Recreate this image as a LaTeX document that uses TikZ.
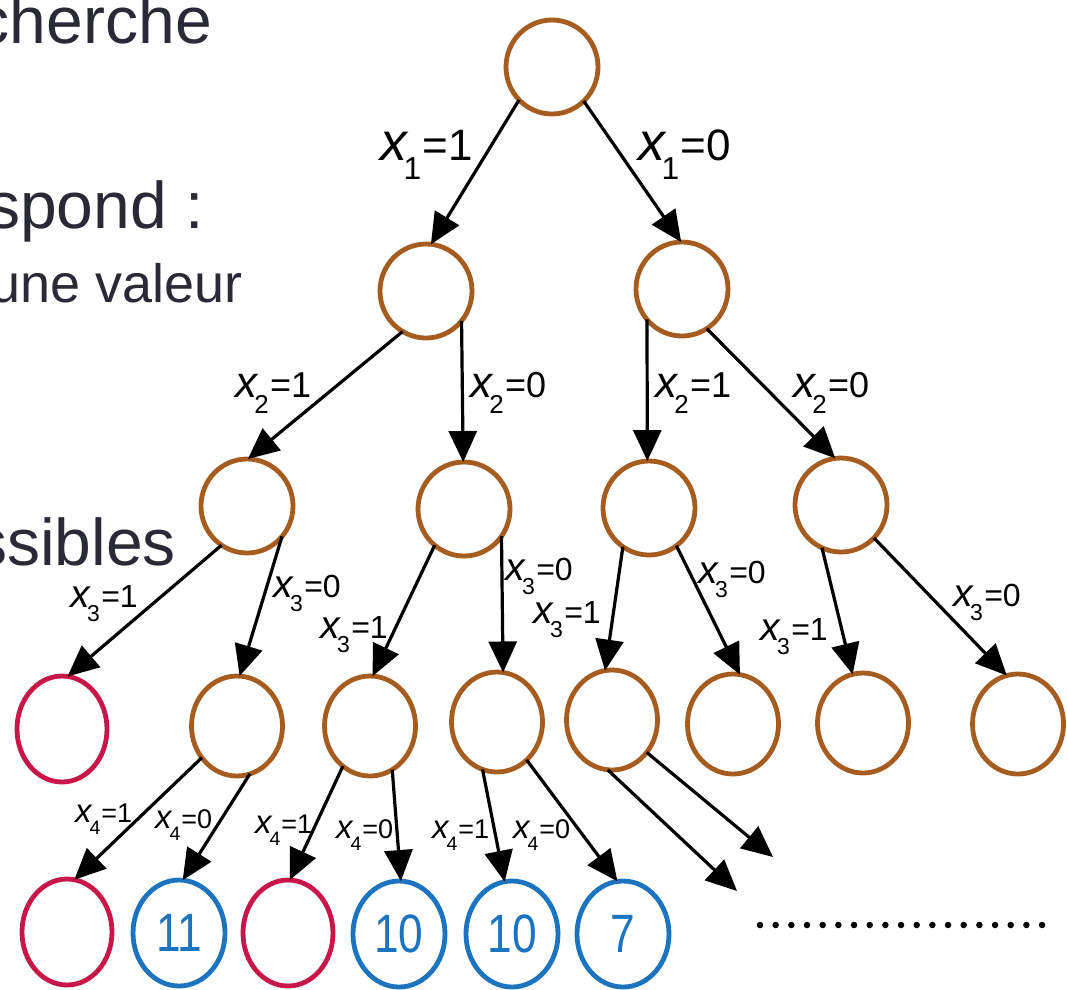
\documentclass[tikz,border=0pt]{standalone}
\usepackage{fontspec}
\setmainfont{Liberation Sans}
\usetikzlibrary{shapes.geometric,arrows.meta}
\definecolor{nodebrown}{RGB}{166,92,30}
\definecolor{nodered}{RGB}{200,22,72}
\definecolor{nodeblue}{RGB}{28,116,192}
\definecolor{inkdark}{RGB}{42,42,54}
% branch label: italic x, subscript index, value
\newcommand{\xlab}[2]{\scalebox{1.22}{\itshape x}\kern-0.08em\raisebox{-0.45em}{\scalebox{0.72}{#1}}\kern0.04em=#2}
\newcommand{\narrow}[1]{\scalebox{0.82}[1]{#1}}
\begin{document}
\begin{tikzpicture}[x=1pt,y=-1pt,
  tnode/.style={ellipse, line width=4.8pt, inner sep=0pt, outer sep=0pt, fill=white},
  inner/.style={tnode, draw=nodebrown, minimum width=92pt, minimum height=94pt},
  lowin/.style={tnode, draw=nodebrown, minimum width=91pt, minimum height=100pt},
  leafred/.style={tnode, draw=nodered, minimum width=90pt, minimum height=106pt},
  leafblue/.style={tnode, draw=nodeblue, minimum width=92pt, minimum height=106pt,
    text=nodeblue, font=\fontsize{54}{54}\selectfont},
  edge/.style={line width=3.2pt, draw=black, -{Triangle[length=31pt,width=28pt]}},
  labA/.style={anchor=base west, inner sep=0pt, font=\fontsize{44}{44}\selectfont},
  labB/.style={anchor=base west, inner sep=0pt, font=\fontsize{36}{36}\selectfont},
  labC/.style={anchor=base west, inner sep=0pt, font=\fontsize{32}{32}\selectfont},
  labD/.style={anchor=base west, inner sep=0pt, font=\fontsize{27}{27}\selectfont},
  bigtext/.style={anchor=base east, inner sep=0pt, text=inkdark, font=\fontsize{66}{66}\selectfont},
  midtext/.style={anchor=base east, inner sep=0pt, text=inkdark, font=\fontsize{54}{54}\selectfont}]
\clip (0,0) rectangle (1067,989);
\fill[white] (0,0) rectangle (1067,989);

% text fragments on the left
\node[bigtext] (t1) at (212,43) {cherche};
\node[bigtext] (t2) at (204,228) {spond :};
\node[midtext] (t3) at (243,302) {une valeur};
\node[bigtext] (t4) at (176,565) {ssibles};

% tree nodes
\node[inner] (r0) at (552,67) {};
\node[inner] (a) at (426,291) {};
\node[inner] (b) at (682,289) {};
\node[inner] (c) at (247,506) {};
\node[inner] (d) at (464,509) {};
\node[inner] (e) at (649,508) {};
\node[inner] (f) at (841,505) {};
\node[leafred] (g) at (62,729) {};
\node[lowin] (h) at (237,726) {};
\node[lowin] (i) at (370,726) {};
\node[lowin] (j) at (497,722) {};
\node[lowin] (k) at (612,720) {};
\node[lowin] (l) at (733,724) {};
\node[lowin] (m) at (863,723) {};
\node[lowin] (n) at (1018,724) {};
\node[leafred] (o) at (67,932) {};
\node[leafblue] (p) at (179,933) {\narrow{11}};
\node[leafred] (q) at (288,933) {};
\node[leafblue] (r) at (399,934) {\narrow{10}};
\node[leafblue] (s) at (512,934) {\narrow{10}};
\node[leafblue] (t) at (623,934) {\narrow{7}};
\coordinate (k1) at (773,857);
\coordinate (k2) at (737,891);

% branches
\draw[edge] (r0.225) -- (a.84);
\draw[edge] (r0.313) -- (b.91);
\draw[edge] (a.240) -- (c.89);
\draw[edge] (a.320) -- (d.91);
\draw[edge] (b.221) -- (e.92);
\draw[edge] (b.302) -- (f.97);
\draw[edge] (c.237) -- (g.84);
\draw[edge] (c.319) -- (h.87);
\draw[edge] (d.231) -- (i.87);
\draw[edge] (d.324) -- (j.83);
\draw[edge] (e.236) -- (k.98);
\draw[edge] (e.306) -- (l.82);
\draw[edge] (f.246) -- (m.102);
\draw[edge] (f.315) -- (n.103);
\draw[edge] (h.222) -- (o.82);
\draw[edge] (h.285) -- (p.86);
\draw[edge] (i.236) -- (q.88);
\draw[edge] (i.297) -- (r.88);
\draw[edge] (j.253) -- (s.98);
\draw[edge] (j.308) -- (t.96);
\draw[edge] (k.317) -- (k1);
\draw[edge] (k.265) -- (k2);

% branch labels
\node[labA] (la1) at (380,160) {\xlab{1}{1}};
\node[labA] (la2) at (638,160) {\xlab{1}{0}};
\node[labB] (lb1) at (235,397) {\xlab{2}{1}};
\node[labB] (lb2) at (470,397) {\xlab{2}{0}};
\node[labB] (lb3) at (655,397) {\xlab{2}{1}};
\node[labB] (lb4) at (793,397) {\xlab{2}{0}};
\node[labC] (lc1) at (70,607) {\xlab{3}{1}};
\node[labC] (lc2) at (273,597) {\xlab{3}{0}};
\node[labC] (lc3) at (320,638) {\xlab{3}{1}};
\node[labC] (lc4) at (505,580) {\xlab{3}{0}};
\node[labC] (lc5) at (533,623) {\xlab{3}{1}};
\node[labC] (lc6) at (698,583) {\xlab{3}{0}};
\node[labC] (lc7) at (760,640) {\xlab{3}{1}};
\node[labC] (lc8) at (953,606) {\xlab{3}{0}};
\node[labD] (ld1) at (75,822) {\xlab{4}{1}};
\node[labD] (ld2) at (155,828) {\xlab{4}{0}};
\node[labD] (ld3) at (255,833) {\xlab{4}{1}};
\node[labD] (ld4) at (336,838) {\xlab{4}{0}};
\node[labD] (ld5) at (432,838) {\xlab{4}{1}};
\node[labD] (ld6) at (513,838) {\xlab{4}{0}};

% continuation dots
\draw[line width=6.5pt, line cap=round, dash pattern=on 0pt off 15.67pt] (760,925) -- (1043,925);
\end{tikzpicture}
\end{document}
